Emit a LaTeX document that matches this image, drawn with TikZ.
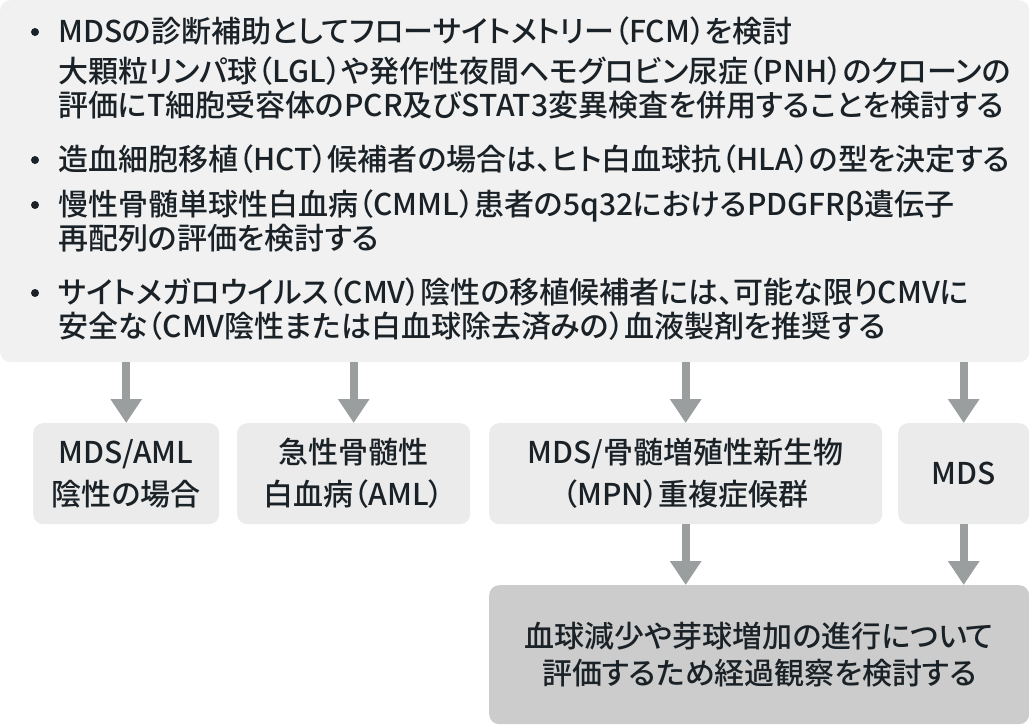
\documentclass[tikz,border=0pt]{standalone}
\usepackage{fontspec}
\setmainfont{Noto Sans CJK JP Medium}[RawFeature=+palt]
\usetikzlibrary{arrows.meta}

\definecolor{inkdark}{HTML}{1B2227}
\definecolor{topgray}{HTML}{F1F1F1}
\definecolor{casegray}{HTML}{EBEBEB}
\definecolor{watchgray}{HTML}{CCCCCC}
\definecolor{arrowgray}{HTML}{9B9E9F}

\begin{document}
\begin{tikzpicture}[x=1pt,y=-1pt]
        \tikzstyle{every node}=[text=inkdark]
        \tikzstyle{panel}=[rounded corners=10pt, inner sep=0pt, anchor=north west]
        \tikzstyle{item}=[anchor=north west, align=left, inner sep=0pt, font=\fontsize{30}{34}\selectfont]
        \tikzstyle{dot}=[circle, fill=inkdark, minimum size=8pt, inner sep=0pt]
        \tikzstyle{case}=[panel, fill=casegray, align=center, font=\fontsize{30}{42}\selectfont]
        \tikzstyle{flow}=[-{Triangle[width=30pt,length=24pt]}, line width=8pt, draw=arrowgray]

        \useasboundingbox (0,0) rectangle (1029,726);

        % Recommendation panel
        \node[panel, fill=topgray, minimum width=1029pt, minimum height=362pt] (top) at (0,0) {};

        % Bullet items
        \node[item] (it-1) at (58,17) {MDSの診断補助としてフローサイトメトリー（FCM）を検討\\[6pt]
            大顆粒リンパ球（LGL）や発作性夜間ヘモグロビン尿症（PNH）のクローンの\\
            評価にT細胞受容体のPCR及びSTAT3変異検査を併用することを検討する};
        \node[item] (it-2) at (58,145) {造血細胞移植（HCT）候補者の場合は、ヒト白血球抗（HLA）の型を決定する};
        \node[item] (it-3) at (58,190) {慢性骨髄単球性白血病（CMML）患者の5q32におけるPDGFRβ遺伝子\\
            再配列の評価を検討する};
        \node[item] (it-4) at (58,278) {サイトメガロウイルス（CMV）陰性の移植候補者には、可能な限りCMVに\\
            安全な（CMV陰性または白血球除去済みの）血液製剤を推奨する};

        \foreach \name / \y in {1/32, 2/160, 3/205, 4/293}
            \node[dot] (d-\name) at (35,\y) {};

        % Diagnosis boxes
        \node[case, minimum width=186pt, minimum height=101pt] (bA) at (33,423) {MDS/AML\\陰性の場合};
        \node[case, minimum width=233pt, minimum height=101pt] (bB) at (237,423) {急性骨髄性\\白血病（AML）};
        \node[case, minimum width=393pt, minimum height=101pt] (bC) at (489,423) {MDS/骨髄増殖性新生物\\（MPN）重複症候群};
        \node[case, minimum width=131pt, minimum height=101pt] (bD) at (898,423) {MDS};

        % Follow-up box
        \node[panel, fill=watchgray, minimum width=540pt, minimum height=139pt, align=center,
              font=\fontsize{30}{37}\selectfont] (watch) at (489,585)
              {血球減少や芽球増加の進行について\\評価するため経過観察を検討する};

        % Connect the panel with every diagnosis box
        \foreach \dest in {bA,bB,bC,bD}
            \draw[flow] (top.south -| \dest.north) -- (\dest.north);

        \foreach \source in {bC,bD}
            \draw[flow] (\source.south) -- (watch.north -| \source.south);

\end{tikzpicture}
\end{document}
